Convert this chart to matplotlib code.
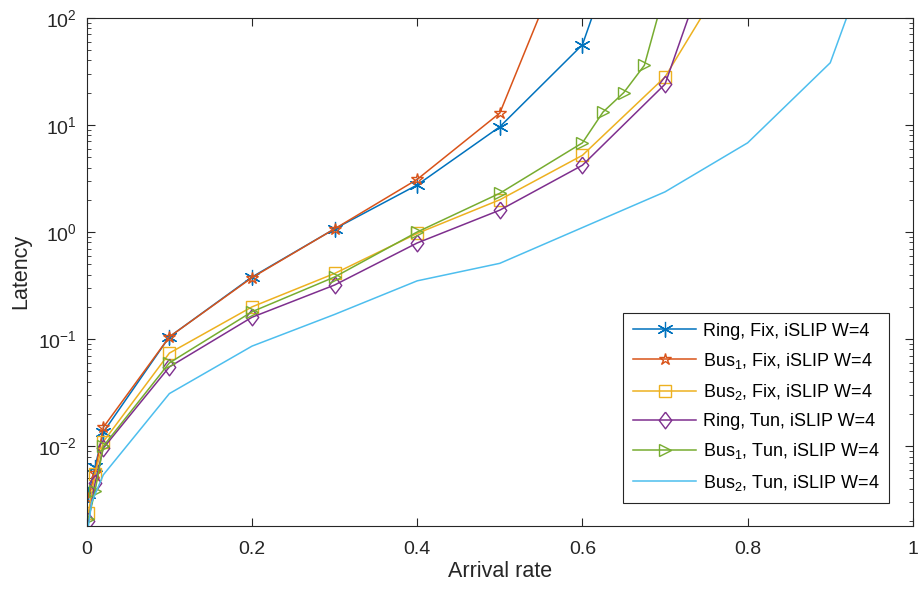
"""
Latency vs arrival rate for ring / bus topologies (log-scale y)
"""
import matplotlib
matplotlib.use('Agg')
import matplotlib.pyplot as plt
from matplotlib.ticker import LogLocator, FixedLocator, FixedFormatter

plt.rcParams['font.family'] = ['Liberation Sans', 'DejaVu Sans']
plt.rcParams['mathtext.fontset'] = 'custom'
plt.rcParams['mathtext.rm'] = 'Liberation Sans'
plt.rcParams['mathtext.it'] = 'Liberation Sans'

# data
x_ring_fix = [0.002, 0.01, 0.02, 0.1, 0.2, 0.3, 0.4, 0.5, 0.6, 0.7]
y_ring_fix = [0.0036, 0.0064, 0.0135, 0.105, 0.38, 1.07, 2.75, 9.6, 56, 9000]

x_bus1_fix = [0.002, 0.01, 0.02, 0.1, 0.2, 0.3, 0.4, 0.5, 0.6]
y_bus1_fix = [0.0033, 0.0056, 0.015, 0.105, 0.375, 1.07, 3.1, 12.9, 1000]

x_bus2_fix = [0.002, 0.01, 0.02, 0.1, 0.2, 0.3, 0.4, 0.5, 0.6, 0.7, 0.8]
y_bus2_fix = [0.0024, 0.0055, 0.011, 0.074, 0.20, 0.41, 0.97, 2.0, 5.2, 28, 520]

x_ring_tun = [0.002, 0.01, 0.02, 0.1, 0.2, 0.3, 0.4, 0.5, 0.6, 0.7, 0.8]
y_ring_tun = [0.0020, 0.0045, 0.0096, 0.055, 0.16, 0.32, 0.79, 1.6, 4.2, 24, 3800]

x_bus1_tun = [0.002, 0.01, 0.02, 0.1, 0.2, 0.3, 0.4, 0.5, 0.6, 0.625, 0.65, 0.675, 0.7]
y_bus1_tun = [0.0021, 0.0038, 0.010, 0.060, 0.18, 0.38, 1.0, 2.3, 6.8, 13.2, 20, 36, 180]

x_bus2_tun = [0.002, 0.006, 0.02, 0.1, 0.2, 0.3, 0.4, 0.5, 0.6, 0.7, 0.8, 0.9, 1.0]
y_bus2_tun = [0.0018, 0.0030, 0.0054, 0.031, 0.086, 0.17, 0.35, 0.51, 1.1, 2.37, 6.8, 38, 5000]

labels = ['Ring, Fix, iSLIP W=4',
          'Bus$_1$, Fix, iSLIP W=4',
          'Bus$_2$, Fix, iSLIP W=4',
          'Ring, Tun, iSLIP W=4',
          'Bus$_1$, Tun, iSLIP W=4',
          'Bus$_2$, Tun, iSLIP W=4']

series = [(x_ring_fix, y_ring_fix), (x_bus1_fix, y_bus1_fix), (x_bus2_fix, y_bus2_fix),
          (x_ring_tun, y_ring_tun), (x_bus1_tun, y_bus1_tun), (x_bus2_tun, y_bus2_tun)]

colors = ['#0072BD', '#D95319', '#EDB120', '#7E2F8E', '#77AC30', '#4DBEEE']

# matlab-like marker shapes: asterisk, pentagram, square, diamond, triangle-right
asterisk = [(0, 1), (0, -1), (0, 0), (0.87, 0.5), (-0.87, -0.5), (0, 0),
            (0.87, -0.5), (-0.87, 0.5), (0, 0)]
diamond = [(0, 1), (0.75, 0), (0, -1), (-0.75, 0), (0, 1)]
markers = [asterisk, '*', 's', diamond, '>', None]
msizes = [11, 9, 8, 12, 9, 0]

fig = plt.figure(figsize=(9.23, 5.93), dpi=100)
ax = fig.add_axes([0.094, 0.113, 0.895, 0.857])

for (xs, ys), lab, c, m, ms in zip(series, labels, colors, markers, msizes):
    ax.plot(xs, ys, color=c, marker=m, markersize=ms, fillstyle='none',
            markeredgewidth=1.0, linewidth=1.1, label=lab)

ax.set_yscale('log')
ax.set_xlim(0, 1)
ax.set_ylim(0.0018, 100)

ax.xaxis.set_major_locator(FixedLocator([0, 0.2, 0.4, 0.6, 0.8, 1]))
ax.xaxis.set_major_formatter(FixedFormatter(['0', '0.2', '0.4', '0.6', '0.8', '1']))
ax.yaxis.set_major_locator(LogLocator(base=10, numticks=10))
ax.yaxis.set_minor_locator(LogLocator(base=10, subs=range(2, 10), numticks=20))

ax.tick_params(which='both', direction='in', top=True, right=True,
               colors='#262626', labelsize=14)
ax.tick_params(axis='x', pad=11)
ax.tick_params(axis='y', pad=7)
ax.tick_params(which='major', length=6)
ax.tick_params(which='minor', length=3)
for sp in ax.spines.values():
    sp.set_color('#262626')
    sp.set_linewidth(0.8)

ax.set_xlabel('Arrival rate', fontsize=15.5, color='#262626', labelpad=2)
ax.set_ylabel('Latency', fontsize=15.5, color='#262626', labelpad=5)

leg = ax.legend(loc='lower right', fontsize=13, fancybox=False, framealpha=1,
                edgecolor='#262626', borderaxespad=1.3, handlelength=3.5,
                handletextpad=0.35, labelspacing=0.62, borderpad=0.55)
leg.get_frame().set_linewidth(0.8)

fig.savefig('out.png', dpi=100)
